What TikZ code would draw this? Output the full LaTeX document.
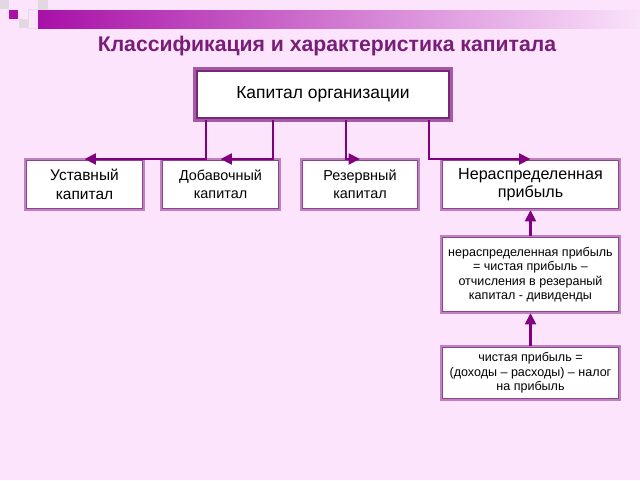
\documentclass[tikz,border=0pt]{standalone}
\usepackage{fontspec}
\setmainfont{Liberation Sans}
\usetikzlibrary{arrows.meta,calc}
\definecolor{bg}{RGB}{252,228,252}
\definecolor{conn}{RGB}{128,0,128}
\definecolor{titlec}{RGB}{120,30,120}
\definecolor{lav}{RGB}{190,130,190}
\definecolor{lavdark}{RGB}{145,65,145}
\definecolor{topband}{RGB}{165,90,165}
\definecolor{topdark}{RGB}{120,40,120}
\definecolor{sqgray}{RGB}{226,216,226}
\definecolor{barl}{RGB}{168,16,168}
\definecolor{barr}{RGB}{250,226,250}
\tikzset{
  box/.style={draw=lav, line width=2.2pt, fill=white, outer sep=0pt, inner sep=0pt, align=center, text=black},
  topbox/.style={draw=topband, line width=3.2pt, fill=white, outer sep=0pt, inner sep=0pt, align=center, text=black},
  conn/.style={draw=conn, line width=2.2pt, -{Triangle[length=8.5pt,width=8pt]}},
}
\begin{document}
\begin{tikzpicture}[x=0.75pt,y=-0.75pt]
\useasboundingbox (0,0) rectangle (640,480);
\fill[bg] (0,0) rectangle (640,480);
% decoration
\fill[sqgray] (0,0) rectangle (9,9);
\fill[sqgray] (38,0) rectangle (48,10);
\fill[sqgray] (19,19) rectangle (28,28);
\draw[sqgray!80!black!40, line width=0.5pt] (28,9) rectangle (38,28);
\shade[left color=barl, right color=barr, shading angle=90] (38,10) rectangle (640,28);
\fill[barl] (9,10) rectangle (18,19);
% title
\node[text=titlec, font=\bfseries\fontsize{15.9pt}{18pt}\selectfont] (title) at (327,46) {Классификация и характеристика капитала};
% boxes
\node[topbox, minimum width=256*0.75pt, minimum height=51*0.75pt, font=\fontsize{13.1pt}{15pt}\selectfont] (top) at (323,94.5) {Капитал организации};
\node[box, minimum width=119*0.75pt, minimum height=51*0.75pt, font=\fontsize{11.6pt}{14pt}\selectfont] (ust) at (84.5,184.5) {Уставный\\капитал};
\node[box, minimum width=119*0.75pt, minimum height=51*0.75pt, font=\fontsize{10.8pt}{13.5pt}\selectfont] (dob) at (220.5,184.5) {Добавочный\\капитал};
\node[box, minimum width=118*0.75pt, minimum height=51*0.75pt, font=\fontsize{10.8pt}{13.5pt}\selectfont] (rez) at (360,184.5) {Резервный\\капитал};
\node[box, minimum width=179*0.75pt, minimum height=51*0.75pt, font=\fontsize{12.1pt}{14pt}\selectfont] (nr) at (530.5,184.5) {Нераспределенная\\прибыль};
\node[box, minimum width=179*0.75pt, minimum height=77*0.75pt, font=\fontsize{9.4pt}{10.8pt}\selectfont] (f1) at (530.5,274.5) {нераспределенная прибыль\\= чистая прибыль –\\отчисления в резераный\\капитал - дивиденды};
\node[box, minimum width=179*0.75pt, minimum height=54*0.75pt, font=\fontsize{9.4pt}{10.8pt}\selectfont] (f2) at (530.5,373) {чистая прибыль =\\(доходы – расходы) – налог\\на прибыль};
% inner dark lines
\foreach \n in {ust,dob,rez,nr,f1,f2}{
  \draw[lavdark, line width=0.6pt] ($(\n.south west)+(1.2,-1.2)$) rectangle ($(\n.north east)+(-1.2,1.2)$);
}
\draw[topdark, line width=0.8pt] ($(top.south west)+(2,-2)$) rectangle ($(top.north east)+(-2,2)$);
% connectors
\coordinate (c1) at ($(top.south west)+(11,0)$);
\coordinate (c2) at ($(top.south west)+(78,0)$);
\coordinate (c3) at ($(top.south west)+(151,0)$);
\coordinate (c4) at ($(top.south west)+(234,0)$);
\draw[conn] (c1) |- (ust.north);
\draw[conn] (c2) |- (dob.north);
\draw[conn] (c3) |- (rez.north);
\draw[conn] (c4) |- (nr.north);
\draw[conn] (f2.north) -- (f1.south);
\draw[conn] (f1.north) -- (nr.south);
\end{tikzpicture}
\end{document}
